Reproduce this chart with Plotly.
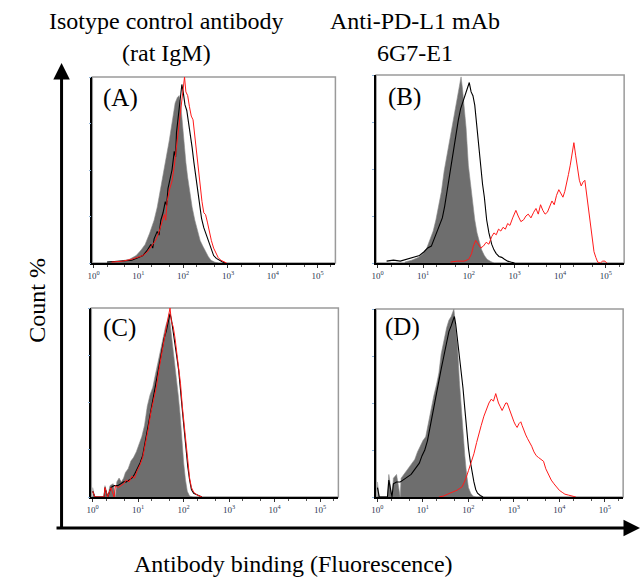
import plotly.graph_objects as go

# ---------------- data (x in log10 fluorescence units, y in % of panel height) -------------
A_gray_x = [0.30, 0.60, 0.80, 0.95, 1.06, 1.15, 1.25, 1.35, 1.42, 1.50, 1.57, 1.63, 1.69, 1.75, 1.82, 1.87, 1.91, 1.95, 1.98, 2.02, 2.06, 2.10, 2.15, 2.20, 2.26, 2.32, 2.38, 2.44, 2.50, 2.56, 2.62, 2.70, 2.78]
A_gray_y = [0.5, 1, 2, 4, 7, 10, 16, 23, 30, 40, 50, 58, 66, 75, 86, 89, 90, 84, 75, 64, 54, 46, 37, 30, 23, 17, 12, 9, 6, 3.5, 1.5, 0.5, 0]
A_black_x = [0.30, 0.60, 0.85, 1.00, 1.10, 1.20, 1.28, 1.32, 1.35, 1.42, 1.46, 1.50, 1.55, 1.60, 1.63, 1.66, 1.71, 1.75, 1.80, 1.83, 1.85, 1.89, 1.93, 1.97, 2.00, 2.04, 2.08, 2.12, 2.16, 2.20, 2.24, 2.28, 2.32, 2.36, 2.41, 2.46, 2.52, 2.57, 2.63, 2.68, 2.74, 2.80, 2.88, 2.95]
A_black_y = [0.5, 1, 1.5, 3, 4, 7, 10, 8, 13, 17, 15, 23, 27, 33, 31, 40, 45, 50, 60, 57, 70, 78, 88, 96, 92, 85, 82, 76, 70, 62, 54, 47, 40, 33, 24, 19, 15, 11, 7, 4, 2.5, 1.5, 0.5, 0]
A_red_x = [0.40, 0.65, 0.85, 1.00, 1.10, 1.20, 1.30, 1.38, 1.45, 1.52, 1.58, 1.61, 1.64, 1.70, 1.75, 1.80, 1.85, 1.90, 1.95, 1.99, 2.03, 2.06, 2.10, 2.14, 2.18, 2.22, 2.26, 2.30, 2.34, 2.38, 2.42, 2.46, 2.50, 2.54, 2.58, 2.63, 2.68, 2.73, 2.78, 2.84, 2.90, 2.97]
A_red_y = [0.5, 1, 2, 3, 4, 6, 9, 12, 16, 21, 26, 23, 33, 40, 44, 52, 62, 72, 82, 90, 100, 92, 90, 84, 79, 77, 68, 60, 50, 42, 33, 27, 26, 22, 17, 12, 8, 5, 3, 1.5, 0.8, 0]

B_gray_x = [0.60, 0.75, 0.90, 1.00, 1.08, 1.15, 1.22, 1.28, 1.34, 1.40, 1.46, 1.52, 1.58, 1.64, 1.70, 1.76, 1.80, 1.83, 1.86, 1.90, 1.94, 1.99, 2.04, 2.09, 2.13, 2.18, 2.23, 2.28, 2.34, 2.40, 2.48, 2.55]
B_gray_y = [0.5, 1.5, 3, 5, 8, 12, 17, 23, 30, 38, 49, 57, 66, 74, 82, 90, 96, 99, 93, 84, 72, 52, 41, 31, 23, 16, 11, 7, 4, 2, 0.8, 0]
B_black_x = [0.20, 0.35, 0.50, 0.65, 0.80, 0.92, 1.02, 1.10, 1.18, 1.24, 1.30, 1.36, 1.42, 1.47, 1.52, 1.57, 1.62, 1.67, 1.72, 1.77, 1.82, 1.87, 1.92, 1.97, 2.01, 2.05, 2.09, 2.13, 2.17, 2.21, 2.26, 2.30, 2.34, 2.39, 2.44, 2.50, 2.55, 2.60, 2.66, 2.72, 2.78, 2.85, 2.92, 3.00]
B_black_y = [1, 1.5, 1, 2, 3, 4, 6, 8, 9, 13, 16, 20, 24, 30, 38, 44, 52, 60, 68, 76, 82, 86, 89, 94, 96, 91, 89, 84, 74, 64, 50, 42, 35, 23, 16, 10, 7, 5, 3.5, 3, 2, 1, 0.5, 0]
B_red_x = [1.60, 1.75, 1.90, 2.00, 2.06, 2.10, 2.15, 2.20, 2.26, 2.32, 2.38, 2.44, 2.50, 2.55, 2.60, 2.65, 2.70, 2.75, 2.80, 2.85, 2.90, 2.96, 3.03, 3.08, 3.14, 3.20, 3.25, 3.30, 3.36, 3.42, 3.47, 3.52, 3.57, 3.62, 3.67, 3.72, 3.77, 3.82, 3.87, 3.92, 3.97, 4.02, 4.06, 4.10, 4.14, 4.18, 4.22, 4.26, 4.30, 4.34, 4.38, 4.42, 4.46, 4.50, 4.54, 4.58, 4.62, 4.66, 4.70, 4.74, 4.78, 4.82, 4.88, 4.93, 4.98, 5.02]
B_red_y = [0.5, 1, 1, 2, 5, 9, 12, 10, 8, 9, 11, 10, 14, 16, 15, 18, 17, 19, 18, 21, 20, 24, 28, 25, 22, 23, 25, 26, 24, 27, 29, 26, 31, 28, 26, 27, 30, 33, 31, 36, 39, 37, 35, 38, 42, 47, 52, 57, 64, 57, 49, 44, 41, 43, 44, 36, 28, 20, 12, 6, 3, 0.5, 0, 1, 1, 0]

C_gray_x = [0.00, 0.04, 0.25, 0.27, 0.33, 0.38, 0.45, 0.50, 0.53, 0.58, 0.63, 0.68, 0.72, 0.78, 0.84, 0.90, 0.96, 1.02, 1.08, 1.14, 1.20, 1.26, 1.32, 1.38, 1.44, 1.50, 1.55, 1.60, 1.65, 1.68, 1.72, 1.76, 1.80, 1.84, 1.88, 1.92, 1.96, 2.00, 2.04, 2.08, 2.13, 2.20]
C_gray_y = [5, 0, 0, 6, 0, 6, 7, 0, 8, 10, 8, 10, 13, 15, 19, 21, 24, 28, 32, 38, 48, 54, 58, 65, 72, 80, 86, 90, 94, 97, 88, 80, 72, 62, 54, 44, 30, 18, 9, 3, 0.5, 0]
C_black_x = [0.00, 0.05, 0.25, 0.27, 0.33, 0.40, 0.47, 0.55, 0.62, 0.68, 0.74, 0.80, 0.86, 0.92, 0.98, 1.04, 1.10, 1.16, 1.22, 1.28, 1.34, 1.40, 1.46, 1.52, 1.57, 1.62, 1.66, 1.70, 1.73, 1.77, 1.81, 1.85, 1.89, 1.93, 1.97, 2.01, 2.05, 2.09, 2.13, 2.17, 2.22, 2.30, 2.40]
C_black_y = [3, 0, 0, 5, 0, 5, 6, 6, 7, 8, 8, 9, 10, 12, 15, 18, 22, 30, 38, 46, 54, 60, 70, 78, 84, 88, 92, 97, 94, 88, 82, 74, 67, 58, 46, 36, 25, 16, 9, 4, 2, 1, 0]
C_red_x = [0.00, 0.05, 0.25, 0.27, 0.33, 0.40, 0.47, 0.50, 0.56, 0.62, 0.68, 0.74, 0.80, 0.86, 0.92, 0.98, 1.04, 1.10, 1.16, 1.22, 1.28, 1.34, 1.40, 1.46, 1.52, 1.57, 1.62, 1.66, 1.70, 1.73, 1.77, 1.81, 1.85, 1.89, 1.93, 1.97, 2.01, 2.05, 2.09, 2.13, 2.17, 2.22, 2.30, 2.40]
C_red_y = [3, 0, 0, 5, 0, 5, 0, 6, 5, 6, 7, 9, 8, 11, 10, 14, 17, 21, 28, 36, 45, 52, 58, 68, 77, 85, 90, 95, 100, 93, 90, 84, 76, 68, 60, 48, 38, 26, 17, 10, 5, 2.5, 1, 0]

D_gray_x = [0.00, 0.04, 0.22, 0.25, 0.32, 0.35, 0.42, 0.50, 0.52, 0.58, 0.64, 0.70, 0.76, 0.82, 0.88, 0.94, 1.00, 1.06, 1.12, 1.18, 1.24, 1.30, 1.35, 1.40, 1.46, 1.52, 1.57, 1.62, 1.68, 1.72, 1.76, 1.80, 1.84, 1.88, 1.92, 1.96, 2.00, 2.05, 2.10, 2.16]
D_gray_y = [8, 0, 0, 12, 0, 10, 12, 0, 10, 12, 14, 16, 18, 20, 24, 27, 30, 32, 40, 48, 54, 60, 66, 76, 84, 90, 94, 96, 100, 90, 80, 62, 48, 32, 22, 12, 5, 2, 0.5, 0]
D_black_x = [0.00, 0.04, 0.22, 0.25, 0.32, 0.35, 0.42, 0.50, 0.56, 0.62, 0.68, 0.74, 0.80, 0.86, 0.92, 0.98, 1.04, 1.10, 1.16, 1.22, 1.28, 1.34, 1.40, 1.46, 1.52, 1.57, 1.62, 1.66, 1.69, 1.72, 1.76, 1.80, 1.84, 1.88, 1.92, 1.96, 2.00, 2.04, 2.08, 2.12, 2.16, 2.20, 2.26, 2.32]
D_black_y = [5, 0, 0, 9, 0, 7, 8, 8, 9, 10, 11, 12, 14, 16, 18, 22, 25, 30, 38, 45, 52, 60, 68, 75, 82, 88, 91, 94, 96, 92, 84, 74, 66, 58, 47, 36, 26, 19, 13, 8, 4, 2, 0.8, 0]
D_red_x = [1.35, 1.45, 1.57, 1.65, 1.75, 1.86, 1.93, 2.00, 2.06, 2.12, 2.18, 2.23, 2.28, 2.34, 2.40, 2.45, 2.50, 2.55, 2.60, 2.63, 2.66, 2.70, 2.74, 2.78, 2.82, 2.85, 2.89, 2.93, 2.96, 3.00, 3.04, 3.07, 3.11, 3.15, 3.18, 3.22, 3.26, 3.30, 3.35, 3.39, 3.44, 3.49, 3.54, 3.60, 3.65, 3.70, 3.76, 3.82, 3.88, 3.94, 4.00, 4.06, 4.12, 4.20, 4.28, 4.36]
D_red_y = [0, 0.5, 1.8, 2.5, 3.6, 5.4, 9, 14, 18, 23, 29, 34, 38, 43, 47, 50, 52, 51, 55, 52, 50, 48, 46, 48, 50, 50, 47, 45, 43, 40, 38, 37, 39, 40, 38, 35, 33, 31, 29, 27, 24, 22, 21, 20, 19, 15, 12, 9, 7, 5, 3.5, 2.5, 1.5, 1, 0.5, 0]

tick_vals = [1, 10, 100, 1000, 10000, 100000]
tick_text = ["10<sup>0</sup>", "10<sup>1</sup>", "10<sup>2</sup>", "10<sup>3</sup>", "10<sup>4</sup>", "10<sup>5</sup>"]

col_titles = [["Isotype control antibody", "(rat IgM)"], ["Anti-PD-L1 mAb", "6G7-E1"]]
panel_labels = ["(A)", "(B)", "(C)", "(D)"]
y_title = "Count %"
x_title = "Antibody binding (Fluorescence)"

# ---------------- layout geometry (pixels) -------------
W, H = 642, 584
panels = [
    # (left, right, top, bottom)
    (88, 333, 77, 263),
    (374, 624, 75, 263),
    (87, 336, 308, 497),
    (374, 623, 309, 497),
]
label_pos = [(116, 98), (403, 97), (115, 328), (401, 327)]

data = [
    (A_gray_x, A_gray_y, A_black_x, A_black_y, A_red_x, A_red_y),
    (B_gray_x, B_gray_y, B_black_x, B_black_y, B_red_x, B_red_y),
    (C_gray_x, C_gray_y, C_black_x, C_black_y, C_red_x, C_red_y),
    (D_gray_x, D_gray_y, D_black_x, D_black_y, D_red_x, D_red_y),
]

def px(x):
    return x / W

def py(y):
    return 1 - y / H

fig = go.Figure()
serif = "Liberation Serif"
shapes = []
annotations = []

for i, ((l, r, t, b), series) in enumerate(zip(panels, data)):
    n = "" if i == 0 else str(i + 1)
    xa, ya = "x" + n, "y" + n
    gx, gy, kx, ky, rx, ry = series
    fig.add_trace(go.Scatter(x=[10 ** v for v in gx], y=gy, mode="lines", line=dict(color="#8a8a8a", width=0.6),
                             fill="tozeroy", fillcolor="#6e6e6e", xaxis=xa, yaxis=ya, showlegend=False, hoverinfo="skip"))
    fig.add_trace(go.Scatter(x=[10 ** v for v in kx], y=ky, mode="lines", line=dict(color="#000000", width=1.1),
                             xaxis=xa, yaxis=ya, showlegend=False, hoverinfo="skip"))
    fig.add_trace(go.Scatter(x=[10 ** v for v in rx], y=ry, mode="lines", line=dict(color="#ff1a1a", width=1.0),
                             xaxis=xa, yaxis=ya, showlegend=False, hoverinfo="skip"))
    xkey = "xaxis" + n
    ykey = "yaxis" + n
    fig.layout[xkey] = dict(
        domain=[px(l), px(r)], anchor=ya, type="log", range=[-0.03, 5.4],
        tickvals=tick_vals, ticktext=tick_text, ticks="outside", ticklen=3, tickcolor="#333",
        tickfont=dict(family=serif, size=9, color="#2b3550"),
        minor=dict(ticks="outside", ticklen=2, tickcolor="#555", showgrid=False),
        showline=True, linecolor="#000", linewidth=1.5, showgrid=False, zeroline=False,
    )
    fig.layout[ykey] = dict(
        domain=[py(b), py(t)], anchor=xa, range=[0, 100],
        tickvals=[0, 25, 50, 75, 100], ticks="outside", ticklen=2, tickcolor="#8fb4d9",
        showticklabels=False, showline=True, linecolor="#000", linewidth=1.5,
        showgrid=False, zeroline=False,
    )
    shapes.append(dict(type="rect", xref="paper", yref="paper", x0=px(l), x1=px(r), y0=py(b), y1=py(t),
                       line=dict(color="#9a9a9a", width=1.5), layer="below"))
    lx, ly = label_pos[i]
    annotations.append(dict(text=panel_labels[i], x=px(lx), y=py(ly), xref="paper", yref="paper",
                            showarrow=False, xanchor="center", yanchor="middle",
                            font=dict(family=serif, size=25, color="#000")))

# column titles
for (cx, lines) in zip([163, 413], col_titles):
    for ly, txt in zip([21, 53], lines):
        annotations.append(dict(text=txt, x=px(cx), y=py(ly), xref="paper", yref="paper", showarrow=False,
                                xanchor="center", yanchor="middle", font=dict(family=serif, size=24, color="#000")))

# axis titles
annotations.append(dict(text=y_title, x=px(32), y=py(300), xref="paper", yref="paper", showarrow=False,
                        textangle=-90, xanchor="center", yanchor="middle", font=dict(family=serif, size=24, color="#000")))
annotations.append(dict(text=x_title, x=px(291), y=py(564), xref="paper", yref="paper", showarrow=False,
                        xanchor="center", yanchor="middle", font=dict(family=serif, size=24, color="#000")))

# big axis arrows
annotations.append(dict(text="", x=px(57), y=py(63), xref="paper", yref="paper", showarrow=True,
                        ax=0, ay=467, arrowhead=2, arrowsize=1.1, arrowwidth=3, arrowcolor="#000"))
annotations.append(dict(text="", x=px(640), y=py(528), xref="paper", yref="paper", showarrow=True,
                        ax=-585, ay=0, arrowhead=2, arrowsize=1.1, arrowwidth=3, arrowcolor="#000"))

fig.update_layout(
    width=W, height=H, margin=dict(l=0, r=0, t=0, b=0),
    paper_bgcolor="#ffffff", plot_bgcolor="#ffffff",
    shapes=shapes, annotations=annotations, showlegend=False,
)

fig.write_html("out.html", config={"displayModeBar": False},
               post_script="document.body.style.margin='0';document.body.style.overflow='hidden';")
